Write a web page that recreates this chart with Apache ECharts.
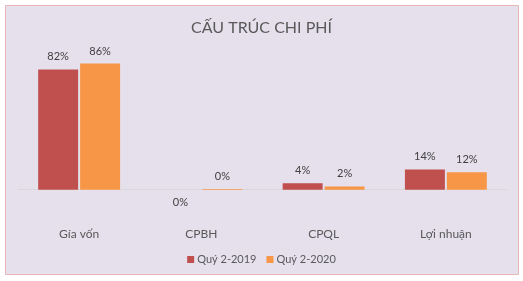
<!DOCTYPE html>
<html><head><meta charset="utf-8">
<script src="https://cdn.jsdelivr.net/npm/echarts@6/dist/echarts.min.js"></script>
<style>html,body{margin:0;padding:0;background:#fff}#c{width:523px;height:281px}</style>
</head><body><div id="c"></div>
<script>
const categories = ['Gía vốn', 'CPBH', 'CPQL', 'Lợi nhuận'];
const seriesNames = ['Quý 2-2019', 'Quý 2-2020'];
const q2_2019 = [82, -0.1, 4.3, 13.8];
const q2_2020 = [86, 0.4, 2.2, 11.8];
const colors = ['#C0504D', '#F79646'];
const FONT = 'Lato, "Open Sans", sans-serif';

function mkData(arr){
  return arr.map(v => v < 0 ? {value: v, label: {position: 'bottom', distance: 7}} : v);
}
const chart = echarts.init(document.getElementById('c'), null, {renderer: 'canvas'});
chart.setOption({
  backgroundColor: '#fff',
  animation: false,
  textStyle: {fontFamily: FONT},
  graphic: [{
    type: 'rect', z: -10, silent: true,
    shape: {x: 5.5, y: 5.5, width: 513, height: 269},
    style: {fill: '#E5E0EC', stroke: '#E6B9B8', lineWidth: 1}
  }],
  title: {
    text: 'CẤU TRÚC CHI PHÍ', left: 'center', top: 15,
    textStyle: {fontFamily: FONT, fontSize: 16, fontWeight: 'normal', color: '#595959'}
  },
  legend: {
    data: seriesNames, left: 'center', top: 249,
    itemWidth: 7, itemHeight: 7, itemGap: 10, icon: 'rect',
    textStyle: {fontFamily: FONT, fontSize: 11, color: '#595959', padding: [0,0,0,-2]}
  },
  grid: {left: 18, right: 16, top: 43, bottom: 62},
  xAxis: {
    type: 'category', data: categories,
    axisLine: {onZero: true, lineStyle: {color: '#D9D9D9'}},
    axisTick: {show: false},
    axisLabel: {margin: 9, fontFamily: FONT, fontSize: 12, color: '#595959'}
  },
  yAxis: {type: 'value', min: -20, max: 100, show: false, splitLine: {show: false}},
  series: [
    {name: seriesNames[0], type: 'bar', data: mkData(q2_2019), itemStyle: {color: colors[0]},
     barGap: '5%', barCategoryGap: '33%',
     label: {show: true, position: 'top', distance: 7, fontFamily: FONT, fontSize: 11, color: '#404040',
       formatter: p => Math.round(p.value) + '%'}},
    {name: seriesNames[1], type: 'bar', data: mkData(q2_2020), itemStyle: {color: colors[1]},
     barGap: '5%', barCategoryGap: '33%',
     label: {show: true, position: 'top', distance: 7, fontFamily: FONT, fontSize: 11, color: '#404040',
       formatter: p => Math.round(p.value) + '%'}}
  ]
});
</script></body></html>
